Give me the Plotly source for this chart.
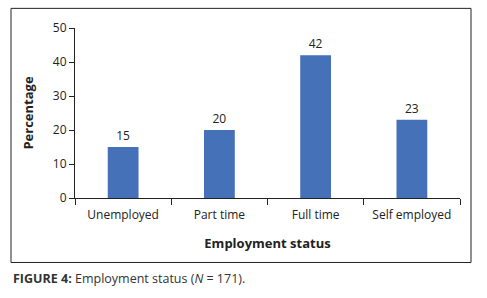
import plotly.graph_objects as go

categories = ["Unemployed", "Part time", "Full time", "Self employed"]
values = [15, 20, 42, 23]
y_ticks = [0, 10, 20, 30, 40, 50]

FONT = "Open Sans"
L, R, T, B = 75, 27, 27.7, 99.7
W, H = 487, 298
pw = W - L - R
ph = H - T - B

def px(x):
    return (x - L) / pw

def py(y):
    return (H - B - y) / ph

fig = go.Figure(go.Bar(
    x=categories, y=values,
    marker=dict(color="#4571B8", line=dict(width=0)),
    text=values, textposition="outside", cliponaxis=False,
    textfont=dict(family=FONT, size=12, color="#222"),
))

fig.update_layout(
    width=W, height=H,
    margin=dict(l=L, r=R, t=T, b=B),
    paper_bgcolor="white", plot_bgcolor="white",
    bargap=0.68, showlegend=False,
    font=dict(family=FONT, size=12, color="#222"),
    xaxis=dict(
        type="category", tickson="boundaries", ticks="outside", ticklen=6,
        tickcolor="#222", showline=True, linecolor="#222", linewidth=1,
        showgrid=False, tickfont=dict(size=12), automargin=False,
        ticklabelstandoff=6,
        title=dict(text="<b>Employment status</b>", font=dict(size=13), standoff=16),
    ),
    yaxis=dict(
        range=[0, 50], tickvals=y_ticks, ticks="outside", ticklen=5,
        tickcolor="#222", showline=True, linecolor="#222", linewidth=1,
        showgrid=False, zeroline=False, tickfont=dict(size=12), automargin=False,
        title=dict(text="<b>Percentage</b>", font=dict(size=13), standoff=16),
    ),
    shapes=[dict(
        type="rect", xref="paper", yref="paper",
        x0=px(11), x1=px(471), y0=py(263), y1=py(8),
        line=dict(color="#222", width=1),
    )],
    annotations=[dict(
        xref="paper", yref="paper", x=px(11), y=py(279),
        xanchor="left", yanchor="middle", showarrow=False,
        text="<b>FIGURE 4:</b> Employment status (<i>N</i> = 171).",
        font=dict(family=FONT, size=12.5, color="#333"),
    )],
)

fig.write_html(
    "out.html",
    config={"displayModeBar": False},
    post_script="document.body.style.margin='0';document.body.style.overflow='hidden';",
)
